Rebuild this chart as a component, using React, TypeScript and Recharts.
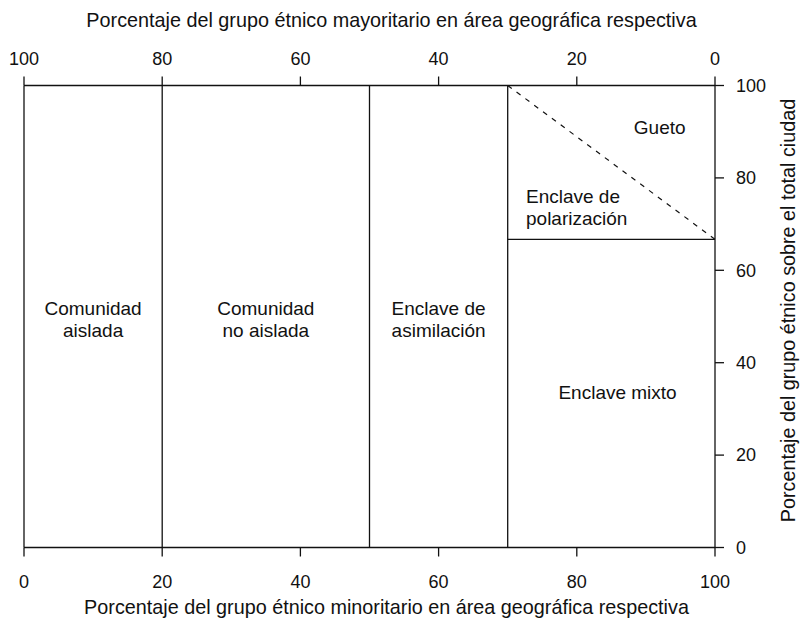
import React from 'react';
import { ComposedChart, XAxis, YAxis, ReferenceLine, Scatter, Label } from 'recharts';

const bottomTicks = [0, 20, 40, 60, 80, 100];
const topTicks = [0, 20, 40, 60, 80, 100];
const rightTicks = [0, 20, 40, 60, 80, 100];

const bottomTitle = 'Porcentaje del grupo étnico minoritario en área geográfica respectiva';
const topTitle = 'Porcentaje del grupo étnico mayoritario en área geográfica respectiva';
const rightTitle = 'Porcentaje del grupo étnico sobre el total ciudad';

// solid boundary segments (data units: minority %, group share %)
const solidSegments = [
  { x1: 0, y1: 0, x2: 0, y2: 100 },
  { x1: 20, y1: 0, x2: 20, y2: 100 },
  { x1: 50, y1: 0, x2: 50, y2: 100 },
  { x1: 70, y1: 0, x2: 70, y2: 100 },
  { x1: 70, y1: 66.7, x2: 100, y2: 66.7 },
];
const dashedSegments = [{ x1: 70, y1: 100, x2: 100, y2: 66.7 }];

const regionLabels = [
  { x: 10, y: 49.3, lines: ['Comunidad', 'aislada'], anchor: 'middle' },
  { x: 35, y: 49.3, lines: ['Comunidad', 'no aislada'], anchor: 'middle' },
  { x: 60, y: 49.3, lines: ['Enclave de', 'asimilación'], anchor: 'middle' },
  { x: 92, y: 90.9, lines: ['Gueto'], anchor: 'middle' },
  { x: 72.65, y: 73.7, lines: ['Enclave de', 'polarización'], anchor: 'start' },
  { x: 85.9, y: 33.6, lines: ['Enclave mixto'], anchor: 'middle' },
];

// majority-share ticks bound to the top axis (hidden anchor points)
const topAnchors = topTicks.map((v) => ({ x: v, y: 100 }));

const FONT = '"Liberation Sans", Arial, Helvetica, sans-serif';
const INK = '#111';
const FS_TICK = 18;
const FS_LABEL = 19;
const FS_TITLE = 19.8;
const LH = 22;

const RegionText = (props: any) => {
  const { cx, cy, payload } = props;
  const n = payload.lines.length;
  const startY = cy - ((n - 1) * LH) / 2 + FS_LABEL * 0.35;
  return (
    <text x={cx} y={startY} textAnchor={payload.anchor} fontSize={FS_LABEL} fontFamily={FONT} fill={INK}>
      {payload.lines.map((l: string, i: number) => (
        <tspan key={i} x={cx} dy={i === 0 ? 0 : LH}>
          {l}
        </tspan>
      ))}
    </text>
  );
};

const Hidden = () => <g />;

const tickStyle = { fontSize: FS_TICK, fontFamily: FONT, fill: INK };

export default function App() {
  return (
    <div
      style={{
        position: 'fixed',
        left: 0,
        top: 0,
        width: 801,
        height: 623,
        overflow: 'hidden',
        background: '#fff',
      }}
    >
      <div style={{ position: 'absolute', left: 8, top: 8 }}>
        <ComposedChart
          width={793}
          height={615}
          margin={{ top: 27.5, right: 26, bottom: 15.5, left: 16 }}
          style={{ fontFamily: FONT }}
        >
          <XAxis
            xAxisId="bottom"
            orientation="bottom"
            type="number"
            dataKey="x"
            domain={[0, 100]}
            ticks={bottomTicks}
            height={60}
            tickSize={9}
            tickMargin={19}
            tick={tickStyle}
            axisLine={{ stroke: INK, strokeWidth: 1.3 }}
            tickLine={{ stroke: INK, strokeWidth: 1.3 }}
            allowDataOverflow
          >
            <Label
              content={({ viewBox }: any) => (
                <text
                  x={viewBox.x + viewBox.width / 2 + 17}
                  y={viewBox.y + viewBox.height + 6}
                  textAnchor="middle"
                  fontSize={FS_TITLE}
                  fontFamily={FONT}
                  fill={INK}
                >
                  {bottomTitle}
                </text>
              )}
            />
          </XAxis>
          <XAxis
            xAxisId="top"
            orientation="top"
            type="number"
            dataKey="x"
            domain={[0, 100]}
            reversed
            ticks={topTicks}
            height={50}
            tickSize={9}
            tickMargin={12}
            tick={tickStyle}
            axisLine={{ stroke: INK, strokeWidth: 1.3 }}
            tickLine={{ stroke: INK, strokeWidth: 1.3 }}
            allowDataOverflow
          >
            <Label
              content={({ viewBox }: any) => (
                <text
                  x={viewBox.x + viewBox.width / 2 + 22}
                  y={viewBox.y - 9}
                  textAnchor="middle"
                  fontSize={FS_TITLE}
                  fontFamily={FONT}
                  fill={INK}
                >
                  {topTitle}
                </text>
              )}
            />
          </XAxis>
          <YAxis
            yAxisId="right"
            orientation="right"
            type="number"
            dataKey="y"
            domain={[0, 100]}
            ticks={rightTicks}
            width={60}
            tickSize={9}
            tickMargin={12}
            tick={tickStyle}
            axisLine={{ stroke: INK, strokeWidth: 1.3 }}
            tickLine={{ stroke: INK, strokeWidth: 1.3 }}
            allowDataOverflow
          >
            <Label
              content={({ viewBox }: any) => {
                const cx = viewBox.x + viewBox.width + 13;
                const cy = viewBox.y + viewBox.height / 2 - 6;
                return (
                  <text
                    x={cx}
                    y={cy}
                    transform={`rotate(-90 ${cx} ${cy})`}
                    textAnchor="middle"
                    dominantBaseline="central"
                    fontSize={FS_TITLE}
                    fontFamily={FONT}
                    fill={INK}
                  >
                    {rightTitle}
                  </text>
                );
              }}
            />
          </YAxis>
          {solidSegments.map((s, i) => (
            <ReferenceLine
              key={'s' + i}
              xAxisId="bottom"
              yAxisId="right"
              segment={[
                { x: s.x1, y: s.y1 },
                { x: s.x2, y: s.y2 },
              ]}
              stroke={INK}
              strokeWidth={1.3}
            />
          ))}
          {dashedSegments.map((s, i) => (
            <ReferenceLine
              key={'d' + i}
              xAxisId="bottom"
              yAxisId="right"
              segment={[
                { x: s.x1, y: s.y1 },
                { x: s.x2, y: s.y2 },
              ]}
              stroke={INK}
              strokeWidth={1.2}
              strokeDasharray="5 6"
            />
          ))}
          <Scatter
            xAxisId="top"
            yAxisId="right"
            data={topAnchors}
            dataKey="y"
            shape={Hidden}
            isAnimationActive={false}
          />
          <Scatter
            xAxisId="bottom"
            yAxisId="right"
            data={regionLabels}
            dataKey="y"
            shape={RegionText}
            isAnimationActive={false}
          />
        </ComposedChart>
      </div>
    </div>
  );
}
